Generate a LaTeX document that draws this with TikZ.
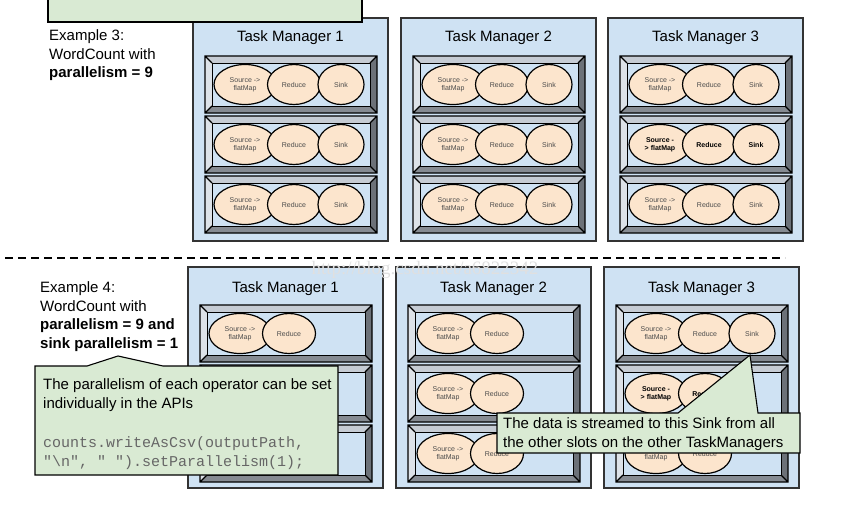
\documentclass[tikz,border=0pt]{standalone}
\usepackage{fontspec}
\setmainfont{Liberation Sans}
\setmonofont{Liberation Mono}
\newfontfamily\wmfont{Liberation Serif}
\usetikzlibrary{shapes.geometric}
\definecolor{tmblue}{HTML}{CFE2F3}
\definecolor{opfill}{HTML}{FCE5CD}
\definecolor{notegreen}{HTML}{D9EAD3}
\definecolor{bevtop}{HTML}{C6CCD4}
\definecolor{bevleft}{HTML}{DDE2E8}
\definecolor{bevright}{HTML}{6C7178}
\definecolor{bevbot}{HTML}{868B92}
\definecolor{codegray}{HTML}{666666}
% one slot: bevelled frame, inner coordinate (#1) at its left middle
\newcommand\slotbox[3]{\begin{scope}[shift={(#2,#3)}]
\fill[bevtop](0,0)--(172,0)--(165,7)--(7,7)--cycle;\fill[bevleft](0,0)--(7,7)--(7,50)--(0,57)--cycle;
\fill[bevright](172,0)--(172,57)--(165,50)--(165,7)--cycle;\fill[bevbot](0,57)--(172,57)--(165,50)--(7,50)--cycle;
\draw[fill=tmblue,line width=1pt](7,7)rectangle(165,50);
\draw[line width=1.2pt](0,0)rectangle(172,57)(0,0)--(7,7)(172,0)--(165,7)(0,57)--(7,50)(172,57)--(165,50);
\coordinate(#1)at(0,28.5);\end{scope}}
\newcommand\twoops[3][]{\node[srcop,#1](#2-src)at([xshift=40pt]#2){#3};\node[redop,#1](#2-red)at([xshift=89pt]#2){Reduce};}
\newcommand\threeops[3][]{\twoops[#1]{#2}{#3}\node[sinkop,#1](#2-sink)at([xshift=136pt]#2){Sink};}
\begin{document}
\begin{tikzpicture}[x=1pt,y=-1pt,
tmbox/.style={fill=tmblue,draw=black!80,line width=1.1pt},
tmtitle/.style={font=\fontsize{15}{18}\selectfont,inner sep=0pt,anchor=base},
op/.style={ellipse,draw=black,line width=1.2pt,fill=opfill,inner sep=0pt,minimum height=40pt,align=center,font=\fontsize{7}{8}\selectfont,text=black!70},
srcop/.style={op,minimum width=62pt},redop/.style={op,minimum width=53pt},sinkop/.style={op,minimum width=46pt},
opbold/.style={font=\fontsize{7}{8}\selectfont\bfseries,text=black},
note/.style={fill=notegreen,draw=black,line width=1.1pt},
lbl/.style={font=\fontsize{15}{18.5}\selectfont,align=left,inner sep=0pt},
code/.style={font=\fontsize{15}{19}\selectfont\ttfamily,text=codegray,inner sep=0pt,anchor=base west}]
\useasboundingbox(0,0)rectangle(866,511);
\foreach\i/\x in{1/193,2/401,3/608}{\draw[tmbox](\x,18)rectangle++(195,223);\node[tmtitle](top\i)at(\x+97.5,41.5){Task Manager \i};
\foreach\j/\y in{1/56,2/116,3/176}{\slotbox{t\i-\j}{\x+12}{\y}\ifnum\i\j=32 \threeops[opbold]{t\i-\j}{Source -\\> flatMap}\else\threeops{t\i-\j}{Source ->\\flatMap}\fi}}
% lower row: slots 2,3 of manager 1 sit under the note, so they stay empty
\foreach\i/\x in{1/188,2/396,3/604}{\draw[tmbox](\x,267)rectangle++(195,221);\node[tmtitle](bot\i)at(\x+97.5,292){Task Manager \i};
\foreach\j/\y in{1/305,2/365,3/425}{\slotbox{b\i-\j}{\x+12}{\y}\ifnum\i\j=31 \threeops{b\i-\j}{Source ->\\flatMap}\else\ifnum\i\j=32 \twoops[opbold]{b\i-\j}{Source -\\> flatMap}\else\ifnum\i=1 \ifnum\j=1 \twoops{b\i-\j}{Source ->\\flatMap}\fi\else\twoops{b\i-\j}{Source ->\\flatMap}\fi\fi\fi}}
\draw[note](48,-5)rectangle(362,22);
\coordinate(sepL)at(5,258);\coordinate(sepR)at(785,258);
\draw[line width=1.6pt,dash pattern=on 8pt off 5pt](sepL)--(sepR);
\node[font=\wmfont\fontsize{19}{19}\selectfont,text=black!12](wm)at(425,270){http://blog.csdn.net/a6822342};
\node[lbl,anchor=north west](ex3)at(49,29.8){Example 3:\\WordCount with\\\textbf{parallelism = 9}};
\node[lbl,anchor=north west](ex4)at(40,281.8){Example 4:\\WordCount with\\\textbf{parallelism = 9 and}\\\textbf{sink parallelism = 1}};
% callouts
\draw[note](35,366)--(87,366)--(118,356)--(163,366)--(338,366)--(338,475)--(35,475)--cycle;
\node[lbl,anchor=north west,font=\fontsize{15}{19}\selectfont](apinote)at(43,378.8){The parallelism of each operator can be set\\individually in the APIs};
\node[code](code1)at(43,447){counts.writeAsCsv(outputPath,};
\node[code](code2)at(43,466){"\textbackslash n", " ").setParallelism(1);};
\draw[note](497,413)--(678,413)--(750,355)--(758,413)--(800,413)--(800,453)--(497,453)--cycle;
\node[lbl,anchor=north west,font=\fontsize{15}{19.5}\selectfont](sinknote)at(503,417.3){The data is streamed to this Sink from all\\the other slots on the other TaskManagers};
\end{tikzpicture}
\end{document}
